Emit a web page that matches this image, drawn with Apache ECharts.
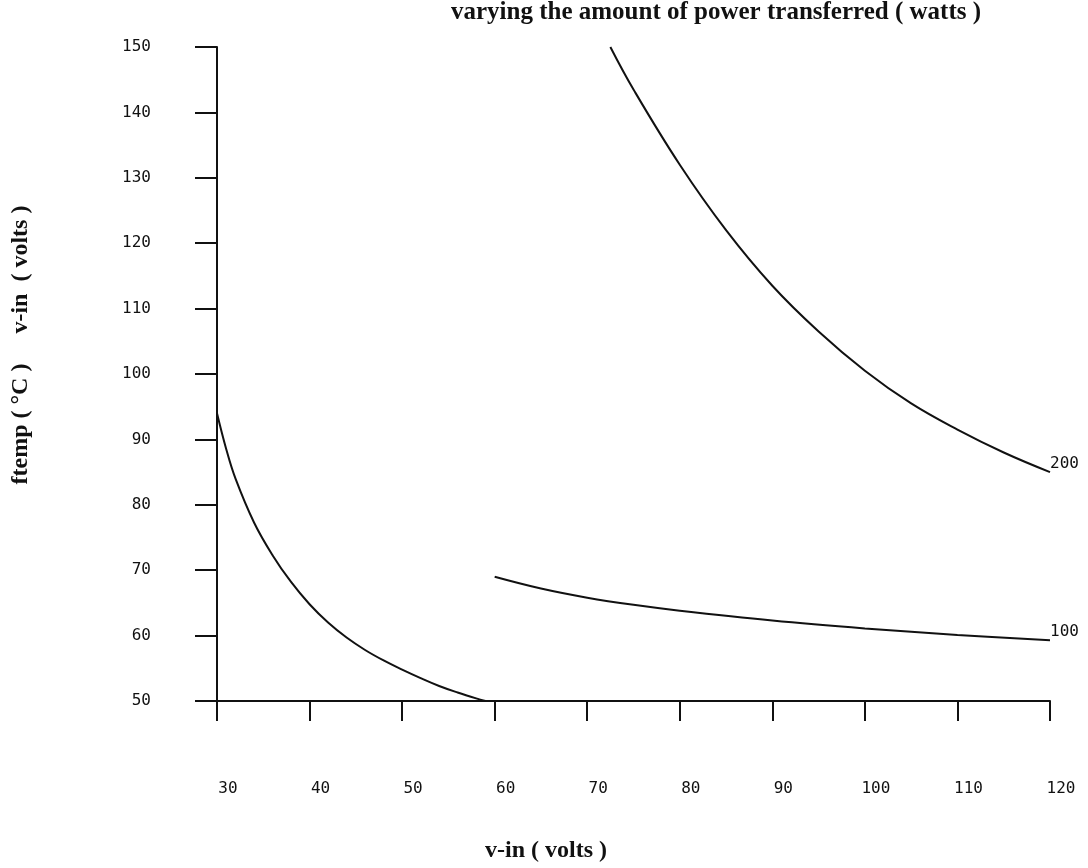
<!DOCTYPE html>
<html>
<head>
<meta charset="utf-8">
<script src="https://cdn.jsdelivr.net/npm/echarts@6/dist/echarts.min.js"></script>
<style>
  html, body { margin: 0; padding: 0; background: #fff; }
  #chart { width: 1088px; height: 868px; }
</style>
</head>
<body>
<div id="chart"></div>
<script>
// Input voltage (V) and resulting ftemp (°C) for each curve
const lowVolts   = [30, 31, 32, 34, 36, 38, 40, 42, 44, 46, 48, 50, 52, 54, 56, 58, 59];
const lowTemps   = [94, 88.5, 84, 77.3, 72.3, 68.2, 64.8, 62, 59.7, 57.8, 56.2, 54.8, 53.5, 52.3, 51.3, 50.4, 50];

const watts100Volts = [60, 65, 70, 75, 80, 90, 100, 110, 120];
const watts100Temps = [69, 67.2, 65.8, 64.7, 63.8, 62.3, 61.1, 60.1, 59.3];

const watts200Volts = [72.5, 75, 80, 85, 90, 95, 100, 105, 110, 115, 120];
const watts200Temps = [150, 143.5, 132, 122, 113.5, 106.5, 100.5, 95.5, 91.5, 88, 85];

const xTickValues = [30, 40, 50, 60, 70, 80, 90, 100, 110, 120];
const yTickValues = [50, 60, 70, 80, 90, 100, 110, 120, 130, 140, 150];

const chartTitle = 'varying the amount of power transferred ( watts )';
const xTitle = 'v-in ( volts )';
const yTitle = 'ftemp ( °C )     v-in  ( volts )';

const pairs = (xs, ys) => xs.map((x, i) => [x, ys[i]]);

const ink = '#111';
const monoFont = '"DejaVu Sans Mono", monospace';
const serifFont = '"Liberation Serif", "Times New Roman", serif';

const lineSeries = (name, data, label) => ({
  name: name,
  type: 'line',
  data: data,
  smooth: 0.4,
  showSymbol: false,
  symbol: 'none',
  lineStyle: { color: ink, width: 2 },
  endLabel: label ? {
    show: true,
    formatter: label,
    color: ink,
    fontFamily: monoFont,
    fontSize: 16,
    distance: 0,
    verticalAlign: 'bottom'
  } : { show: false },
  silent: true,
  animation: false
});

const chart = echarts.init(document.getElementById('chart'), null, { renderer: 'canvas' });

chart.setOption({
  animation: false,
  backgroundColor: '#fff',
  grid: { left: 217, right: 38, top: 47, bottom: 167, containLabel: false },
  xAxis: {
    type: 'value',
    min: xTickValues[0],
    max: xTickValues[xTickValues.length - 1],
    interval: 10,
    axisLine: { show: true, onZero: false, lineStyle: { color: ink, width: 2 } },
    axisTick: { show: true, inside: false, length: 20, lineStyle: { color: ink, width: 2 } },
    axisLabel: {
      color: ink, fontFamily: monoFont, fontSize: 16, margin: 80,
      padding: [0, 0, 0, 22]
    },
    splitLine: { show: false }
  },
  yAxis: {
    type: 'value',
    min: yTickValues[0],
    max: yTickValues[yTickValues.length - 1],
    interval: 10,
    axisLine: { show: true, onZero: false, lineStyle: { color: ink, width: 2 } },
    axisTick: { show: true, inside: false, length: 22, lineStyle: { color: ink, width: 2 } },
    axisLabel: {
      color: ink, fontFamily: monoFont, fontSize: 16, margin: 66,
      padding: [0, 0, 12, 0]
    },
    splitLine: { show: false }
  },
  graphic: [
    {
      type: 'text', left: 451, top: 0,
      style: { text: chartTitle, fill: ink, font: 'bold 25px ' + serifFont }
    },
    {
      type: 'text', x: 546, y: 851,
      style: { text: xTitle, fill: ink, font: 'bold 24px ' + serifFont, align: 'center', verticalAlign: 'middle' }
    },
    {
      type: 'text', x: 21, y: 345, rotation: Math.PI / 2,
      style: { text: yTitle, fill: ink, font: 'bold 24px ' + serifFont, align: 'center', verticalAlign: 'middle' }
    }
  ],
  series: [
    lineSeries('low', pairs(lowVolts, lowTemps), null),
    lineSeries('100', pairs(watts100Volts, watts100Temps), '100'),
    lineSeries('200', pairs(watts200Volts, watts200Temps), '200')
  ]
});
</script>
</body>
</html>
